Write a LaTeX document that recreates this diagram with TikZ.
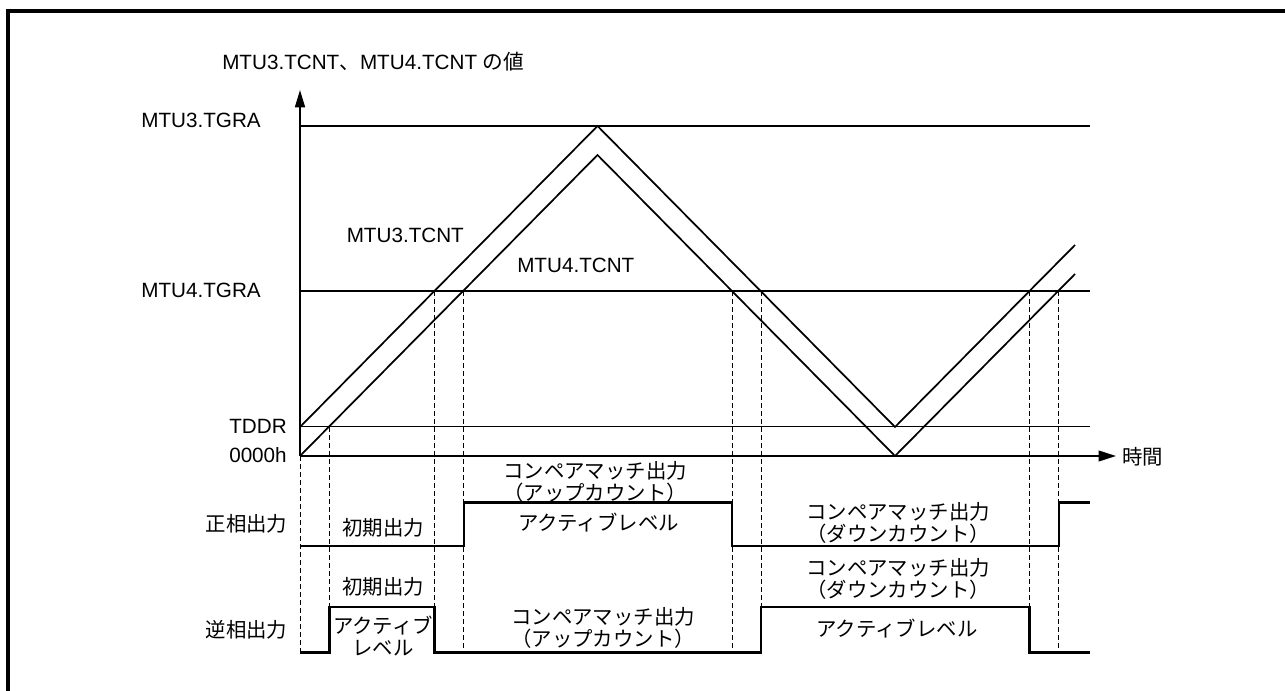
\documentclass[tikz,border=0pt]{standalone}
\usepackage{fontspec}
\setmainfont{Liberation Sans}
\newfontfamily\jp{Noto Sans CJK JP}
\usepackage{tikz}
\usetikzlibrary{positioning,arrows.meta,calc}
\definecolor{inkclr}{RGB}{0,0,0}

\begin{document}
\begin{tikzpicture}[x=0.75pt,y=-0.75pt,
    txt/.style={inner sep=0pt, font=\fontsize{15.5}{17}\selectfont, text=inkclr},
    jtxt/.style={txt, font=\fontsize{15.3}{16.5}\selectfont\jp, align=center},
    cntline/.style={line width=1.3pt, inkclr},
    lvline/.style={line width=1.3pt, inkclr},
    sig/.style={line width=1.8pt, inkclr, line join=miter},
    guide/.style={line width=0.7pt, inkclr, dash pattern=on 3.8pt off 2.2pt}]
    \useasboundingbox (0,0) rectangle (1285,691);
    \draw[line width=2.3pt, inkclr] (8,691) -- (8,11) -- (1285,11);

    % levels of the counters
    \coordinate (O) at (300,456);
    \coordinate (Ttop) at (300,90);
    \coordinate (Tend) at (1116,456);
    \draw[lvline] (300,126) -- (1090,126);
    \draw[lvline] (300,291) -- (1090,291);
    \draw[line width=0.75pt, inkclr] (300,427) -- (1090,427);
    \draw[cntline,-{Triangle[length=13pt,width=7.5pt]}] (O) -- (Ttop);
    \draw[cntline,-{Triangle[length=13pt,width=8pt]}] (O) -- (Tend);

    % the two triangle counters
    \draw[cntline] (300,427) -- (597.5,126) -- (895,427) -- (1075,245);
    \draw[cntline] (300,456) -- (597.5,155) -- (895,456) -- (1075,274);

    % compare match points
    \coordinate (c0) at (300,456);
    \coordinate (c1) at (329.5,427);
    \coordinate (c2) at (434.6,291);
    \coordinate (c3) at (463.8,291);
    \coordinate (c4) at (732,291);
    \coordinate (c5) at (761.2,291);
    \coordinate (c6) at (1029.6,291);
    \coordinate (c7) at (1058.8,291);
    \foreach \c in {c0,c1,c2,c3,c4,c5,c6,c7}
      \draw[guide] (\c) -- (\c |- 0,652.3);

    % output waveforms
    \draw[sig] (300,545.7) -| (c3 |- 0,502.3) -| (c4 |- 0,545.7)
               -| (c7 |- 0,502.3) -- (1090,502.3);
    \draw[sig] (300,652.3) -| (c1 |- 0,606.7) -| (c2 |- 0,652.3)
               -| (c5 |- 0,606.7) -| (c6 |- 0,652.3) -- (1090,652.3);

    % axis texts
    \node[txt, anchor=west] (title) at (222,62)
      {MTU3.TCNT{\jp 、}MTU4.TCNT {\jp の値}};
    \node[txt, anchor=east] (tgra3) at (261,120) {MTU3.TGRA};
    \node[txt, anchor=east] (tgra4) at (261,290) {MTU4.TGRA};
    \node[txt, anchor=east] (tddr) at (287,426) {TDDR};
    \node[txt, anchor=east] (zero) at (287,455) {0000h};
    \node[txt, anchor=west] (tcnt3) at (346.5,235) {MTU3.TCNT};
    \node[txt, anchor=west] (tcnt4) at (517,265) {MTU4.TCNT};
    \node[jtxt, anchor=west] (time) at (1122,457) {時間};

    % output texts
    \node[jtxt, anchor=east] (pos) at (287.5,524) {正相出力};
    \node[jtxt, anchor=east] (neg) at (287.5,630) {逆相出力};
    \node[jtxt] (posinit) at (383,528) {初期出力};
    \node[jtxt] (neginit) at (383,587) {初期出力};
    \node[jtxt] (negact1) at (383,636) {アクティブ\\レベル};
    \node[jtxt] (posup) at (595,481.5) {コンペアマッチ出力\\（アップカウント）};
    \node[jtxt] (posact) at (598.5,523) {アクティブレベル};
    \node[jtxt] (negup) at (603,627.5) {コンペアマッチ出力\\（アップカウント）};
    \node[jtxt] (posdown) at (898,522.5) {コンペアマッチ出力\\（ダウンカウント）};
    \node[jtxt] (negdown) at (898,579) {コンペアマッチ出力\\（ダウンカウント）};
    \node[jtxt] (negact2) at (897,628.3) {アクティブレベル};
  \end{tikzpicture}
\end{document}
